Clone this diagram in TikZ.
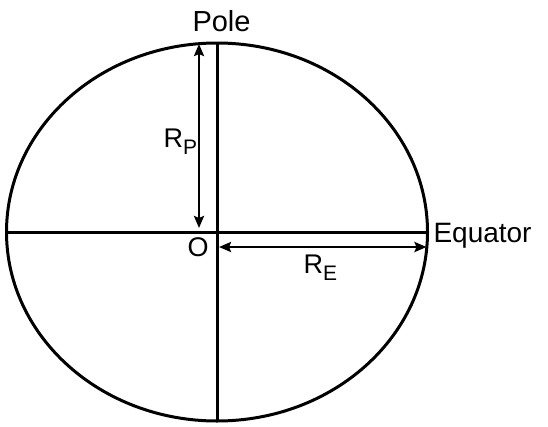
\documentclass[tikz,border=0pt]{standalone}
\usepackage{fontspec}
\setmainfont{Liberation Sans}
\usetikzlibrary{arrows.meta}
\begin{document}
\begin{tikzpicture}[x=1pt, y=-1pt, line width=3pt, line join=round,
  >={Stealth[length=12pt,width=10pt,inset=2pt]},
  font=\fontsize{27}{31}\selectfont,
  lbl/.style={inner sep=0pt, anchor=base west}]
\def\a{210.5}
\def\b{189}
\def\sub#1{\raisebox{-0.28em}{\fontsize{21}{24}\selectfont #1}}
\useasboundingbox (0,0) rectangle (548,426);
\path(217,232)coordinate(O)++(0,-\b)coordinate(N)(O)++(0,\b)coordinate(S)
 (O)++(-\a,0)coordinate(W)(O)++(\a,0)coordinate(E);
\path(199,44)coordinate(P1)(199,228)coordinate(P2)(219,247)coordinate(E1)(426.5,247)coordinate(E2);
\draw(O)ellipse[x radius=\a, y radius=\b];
\draw(N)--(S)(W)--(E);
\draw[<->, line width=2.5pt](P1)--(P2);
\draw[<->, line width=2.5pt](E1)--(E2);
\node[lbl, font=\fontsize{29}{33}\selectfont](pole) at (191,31) {Pole};
\node[lbl](rp) at (162,147) {R\sub{P}};
\node[lbl](origin) at (186,256) {O};
\node[lbl](re) at (302,273) {R\sub{E}};
\node[lbl, font=\fontsize{28}{32}\selectfont](equator) at (432,242) {Equator};
\end{tikzpicture}
\end{document}
